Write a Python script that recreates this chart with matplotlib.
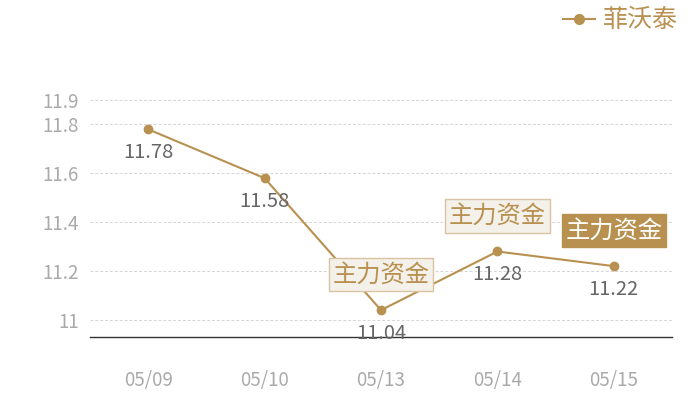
import matplotlib
matplotlib.use("Agg")
import matplotlib.pyplot as plt
from matplotlib.lines import Line2D

plt.rcParams['font.family'] = ['Noto Sans CJK SC', 'DejaVu Sans']

dates = ['05/09', '05/10', '05/13', '05/14', '05/15']
prices = [11.78, 11.58, 11.04, 11.28, 11.22]
flow_marks = [2, 3, 4]          # indices with a 主力资金 tag
flow_filled = [False, False, True]
yticks = [11, 11.2, 11.4, 11.6, 11.8, 11.9]
ytick_labels = ['11', '11.2', '11.4', '11.6', '11.8', '11.9']
series_name = '菲沃泰'

gold = '#b8904f'
fig = plt.figure(figsize=(7, 4), dpi=100)
ax = fig.add_axes([0.1286, 0.1575, 0.8314, 0.5925])

x = list(range(len(dates)))
ax.plot(x, prices, color=gold, lw=1.5, marker='o', ms=6, zorder=3)

for i, v in enumerate(prices):
    ax.annotate(f'{v:.2f}', (i, v), xytext=(0, -16.5), textcoords='offset points',
                ha='center', va='center', fontsize=14.5, color='#666666', zorder=4)

for i, filled in zip(flow_marks, flow_filled):
    if filled:
        box = dict(boxstyle='square,pad=0.15', fc=gold, ec=gold)
        tc = 'white'
    else:
        box = dict(boxstyle='square,pad=0.15', fc='#f4f0ea', ec='#d9c3a0', lw=1)
        tc = gold
    ax.annotate('主力资金', (i, prices[i]), xytext=(0, 25.5), textcoords='offset points',
                ha='center', va='center', fontsize=17.5, color=tc, bbox=box, zorder=5)

ax.set_xlim(-0.5, len(dates) - 0.5)
ax.set_ylim(10.93, 11.9)
ax.set_xticks(x)
ax.set_xticklabels(dates)
ax.set_yticks(yticks)
ax.set_yticklabels(ytick_labels)
ax.tick_params(axis='both', length=0, labelsize=13.5, colors='#aaaaaa')
ax.tick_params(axis='x', pad=24)
ax.tick_params(axis='y', pad=8)
ax.grid(axis='y', color='#d5d5d5', ls=(0, (3, 2)), lw=0.7)
for s in ['top', 'left', 'right']:
    ax.spines[s].set_visible(False)
ax.spines['bottom'].set_color('#333333')
ax.spines['bottom'].set_linewidth(1)

handle = Line2D([], [], color=gold, lw=1.5, marker='o', ms=7)
fig.legend([handle], [series_name], loc='upper right', bbox_to_anchor=(1.0, 1.038),
           frameon=False, fontsize=18, labelcolor=gold, handlelength=1.3, handletextpad=0.3)

fig.savefig('out.png', dpi=100)
